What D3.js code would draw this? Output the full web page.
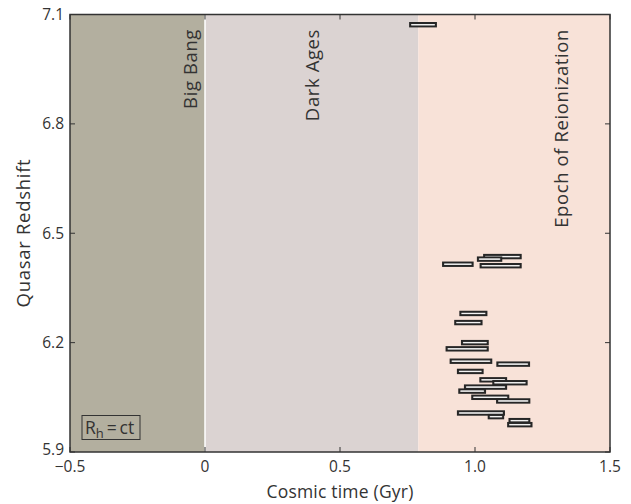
<!DOCTYPE html>
<html><head><meta charset="utf-8">
<script src="https://cdn.jsdelivr.net/npm/d3@7"></script>
<style>body{margin:0;background:#fff}svg{display:block}text{font-family:"Open Sans",sans-serif;fill:#333}</style>
</head><body>
<svg id="c" width="631" height="504"></svg>
<script>
// Eras (Gyr)
const eraNames = ["Big Bang", "Dark Ages", "Epoch of Reionization"];
const eraStart = [-0.5, 0, 0.79];
const eraEnd = [0, 0.79, 1.5];
// Quasars: redshift and time interval (Gyr)
const quasarZ =     [7.072, 6.436, 6.429, 6.415, 6.411, 6.280, 6.255, 6.200, 6.183, 6.149, 6.141, 6.121, 6.098, 6.090, 6.078, 6.067, 6.050, 6.040, 6.007, 5.997, 5.986, 5.975];
const quasarStart = [0.756, 1.030, 1.007, 0.878, 1.017, 0.942, 0.923, 0.948, 0.891, 0.906, 1.079, 0.933, 1.016, 1.064, 0.959, 0.938, 0.986, 1.078, 0.933, 1.047, 1.124, 1.119];
const quasarEnd =   [0.859, 1.173, 1.101, 0.995, 1.173, 1.046, 1.028, 1.051, 1.051, 1.064, 1.204, 1.032, 1.119, 1.195, 1.119, 1.041, 1.127, 1.205, 1.111, 1.108, 1.205, 1.213];
const xTicks = [-0.5, 0, 0.5, 1.0, 1.5];
const xTickLabels = ["\u22120.5", "0", "0.5", "1.0", "1.5"];
const yTicks = [5.9, 6.2, 6.5, 6.8, 7.1];
const yTickLabels = ["5.9", "6.2", "6.5", "6.8", "7.1"];

const L = 70, R = 610, T = 14.5, B = 452;
const x = d3.scaleLinear().domain([-0.5, 1.5]).range([L, R]);
const y = d3.scaleLinear().domain([5.9, 7.1]).range([B, T]);
const svg = d3.select("#c");
const eraColors = ["#b3af9f", "#dbd3d2", "#f8e2d8"];
const labelBase = [197, 319, 568];

svg.selectAll("rect.era").data(eraNames).enter().append("rect")
  .attr("x", (d,i) => x(eraStart[i])).attr("width", (d,i) => x(eraEnd[i]) - x(eraStart[i]))
  .attr("y", T).attr("height", B - T).attr("fill", (d,i) => eraColors[i]);
svg.append("line").attr("x1", x(0)).attr("x2", x(0)).attr("y1", T).attr("y2", B)
  .attr("stroke", "#fff").attr("stroke-width", 1.5);

svg.selectAll("text.era").data(eraNames).enter().append("text")
  .attr("transform", (d,i) => `translate(${labelBase[i]},29) rotate(-90)`)
  .attr("text-anchor", "end").attr("font-size", 18.5).attr("letter-spacing", 0.6).text(d => d);

// quasar bars
const g = svg.append("g");
quasarZ.forEach((z, i) => {
  g.append("rect").attr("x", x(quasarStart[i]) + 1).attr("y", y(z) - 1.7)
    .attr("width", x(quasarEnd[i]) - x(quasarStart[i]) - 2).attr("height", 3.4)
    .attr("fill", "#cfcfcf").attr("stroke", "#262626").attr("stroke-width", 2);
  g.append("line").attr("x1", x(quasarStart[i]) + 2.5).attr("x2", x(quasarEnd[i]) - 2.5)
    .attr("y1", y(z)).attr("y2", y(z)).attr("stroke", "#f6f6f6").attr("stroke-width", 1);
});

// frame
svg.append("rect").attr("x", L).attr("y", T).attr("width", R - L).attr("height", B - T)
  .attr("fill", "none").attr("stroke", "#333").attr("stroke-width", 1.5);

// ticks
const tk = 5;
xTicks.forEach(v => {
  svg.append("line").attr("x1", x(v)).attr("x2", x(v)).attr("y1", B).attr("y2", B - tk).attr("stroke", "#333");
  svg.append("line").attr("x1", x(v)).attr("x2", x(v)).attr("y1", T).attr("y2", T + tk).attr("stroke", "#333");
});
yTicks.forEach(v => {
  svg.append("line").attr("x1", L).attr("x2", L + tk).attr("y1", y(v)).attr("y2", y(v)).attr("stroke", "#333");
  svg.append("line").attr("x1", R).attr("x2", R - tk).attr("y1", y(v)).attr("y2", y(v)).attr("stroke", "#333");
});
svg.selectAll("text.xt").data(xTicks).enter().append("text")
  .attr("x", d => x(d)).attr("y", 472).attr("text-anchor", "middle").attr("font-size", 15.5)
  .text((d,i) => xTickLabels[i]);
svg.selectAll("text.yt").data(yTicks).enter().append("text")
  .attr("x", 64).attr("y", (d,i) => y(d) + (i === 0 ? 3 : 5.5)).attr("text-anchor", "end").attr("font-size", 15.5)
  .text((d,i) => yTickLabels[i]);

svg.append("text").attr("x", 340).attr("y", 498).attr("text-anchor", "middle").attr("font-size", 17.5)
  .attr("letter-spacing", 0.2).text("Cosmic time (Gyr)");
svg.append("text").attr("transform", "translate(30,233) rotate(-90)").attr("text-anchor", "middle")
  .attr("font-size", 18.5).attr("letter-spacing", 0.7).text("Quasar Redshift");

// R_h = ct box
svg.append("rect").attr("x", 82).attr("y", 415.5).attr("width", 58).attr("height", 24)
  .attr("fill", "none").attr("stroke", "#333").attr("stroke-width", 1);
const t = svg.append("text").attr("x", 85).attr("y", 433.5).attr("font-size", 17.5);
t.append("tspan").text("R");
t.append("tspan").attr("dy", 4).attr("font-size", 13).text("h");
t.append("tspan").attr("dy", -4).attr("font-size", 17.5).text("\u2009=\u2009ct");
</script>
</body></html>
